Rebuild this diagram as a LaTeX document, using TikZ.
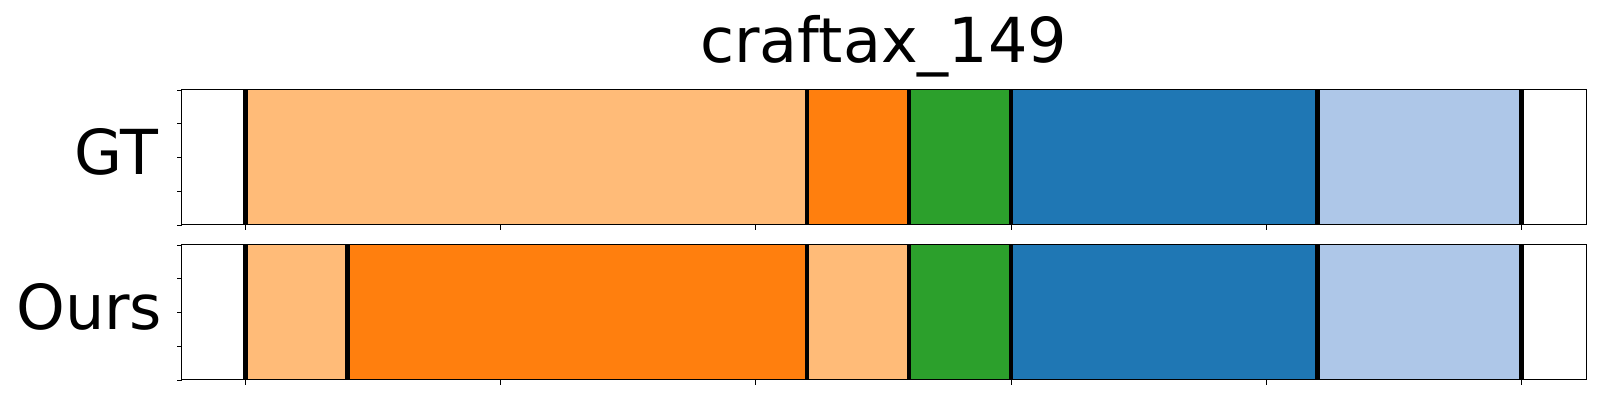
\documentclass[tikz,border=0pt]{standalone}
\usepackage{fontspec}
\setmainfont{DejaVu Sans}
\definecolor{tabltorange}{HTML}{FFBB78}
\definecolor{taborange}{HTML}{FF7F0E}
\definecolor{tabgreen}{HTML}{2CA02C}
\definecolor{tabblue}{HTML}{1F77B4}
\definecolor{tabltblue}{HTML}{AEC7E8}
\begin{document}
\begin{tikzpicture}[x=0.5pt,y=-0.5pt,
  spine/.style={draw=black,line width=0.5pt},
  tickmark/.style={draw=black,line width=0.45pt},
  boundary/.style={draw=black,line width=2.3pt},
  lbl/.style={font=\fontsize{31}{37}\selectfont,inner sep=0pt,text=black}]
\useasboundingbox (0,0) rectangle (1600,400);
\def\xa{245.5}\def\xs{255.2}
% GT bars (top axis y 90..225)
\foreach \a/\b/\c in {0/2.2/tabltorange,2.2/2.6/taborange,2.6/3.0/tabgreen,3.0/4.2/tabblue,4.2/5.0/tabltblue}
  \fill[\c] ({\xa+\xs*\a},90) rectangle ({\xa+\xs*\b},225);
% Ours bars (bottom axis y 245..380)
\foreach \a/\b/\c in {0/0.4/tabltorange,0.4/2.2/taborange,2.2/2.6/tabltorange,2.6/3.0/tabgreen,3.0/4.2/tabblue,4.2/5.0/tabltblue}
  \fill[\c] ({\xa+\xs*\a},245) rectangle ({\xa+\xs*\b},380);
% boundaries
\foreach \a in {0,2.2,2.6,3.0,4.2,5.0}
  \draw[boundary] ({\xa+\xs*\a},90) -- ({\xa+\xs*\a},225);
\foreach \a in {0,0.4,2.2,2.6,3.0,4.2,5.0}
  \draw[boundary] ({\xa+\xs*\a},245) -- ({\xa+\xs*\a},380);
% spines
\draw[spine] (181.5,90) rectangle (1586,225);
\draw[spine] (181.5,245) rectangle (1586,380);
% ticks
\foreach \t in {0,...,4} {
  \draw[tickmark] (181.5,{90+33.75*\t}) -- ++(-5,0);
  \draw[tickmark] (181.5,{245+33.75*\t}) -- ++(-5,0);
}
\foreach \k in {0,...,5} {
  \draw[tickmark] ({\xa+\xs*\k},225) -- ++(0,5);
  \draw[tickmark] ({\xa+\xs*\k},380) -- ++(0,5);
}
% texts
\node[lbl,anchor=base] (title) at (883.7,62.3) {craftax\_149};
\node[lbl,anchor=base east] (gt) at (158.5,175) {GT};
\node[lbl,anchor=base east] (ours) at (162.5,330) {Ours};
\end{tikzpicture}
\end{document}
